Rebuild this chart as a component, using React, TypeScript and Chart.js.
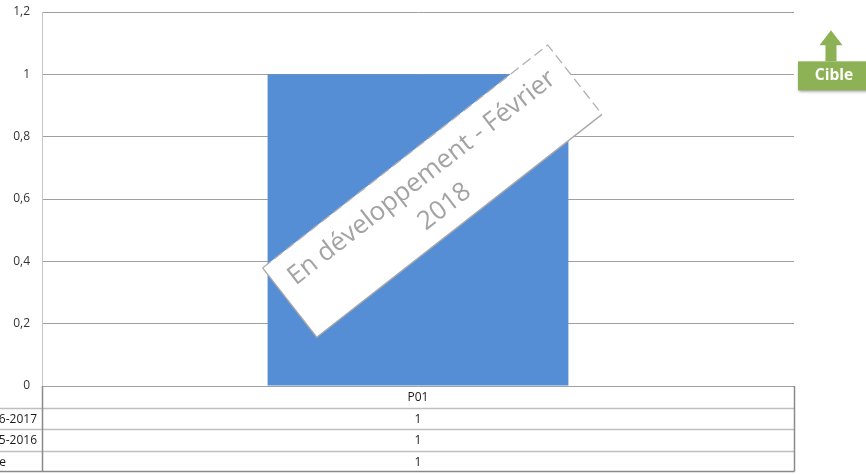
import React, { useEffect, useRef } from "react";
import { Chart, registerables } from "chart.js";

Chart.register(...registerables);

const categories = ["P01"];
const series2017 = [1];
const series2016 = [1];
const cibleValues = [1];
const rowLabels = ["2016-2017", "2015-2016", "Cible"];
const watermarkLines = ["En développement - Février", "2018"];
const cibleLabel = "Cible";

const FONT = "'Open Sans', 'Liberation Sans', sans-serif";
const fmt = (v: number) => String(Math.round(v * 10) / 10).replace(".", ",");

const tablePlugin = {
  id: "dataTable",
  afterDraw(chart: any) {
    const { ctx, chartArea, scales } = chart;
    const left = chartArea.left;
    const right = chartArea.right;
    const base = chartArea.bottom;
    const rowH = 21.6;
    const rows = [series2017, series2016, cibleValues];
    ctx.save();
    ctx.strokeStyle = "#bfbfbf";
    ctx.lineWidth = 1.5;
    for (let i = 1; i <= rows.length; i++) {
      const yy = Math.round(base + rowH * i) + 0.5;
      ctx.beginPath();
      ctx.moveTo(0, yy);
      ctx.lineTo(right, yy);
      ctx.stroke();
    }
    ctx.strokeStyle = "#8a8a8a";
    ctx.lineWidth = 1.5;
    const bottomY = Math.round(base + rowH * (rows.length + 1)) - 0.5;
    ctx.beginPath();
    ctx.moveTo(0, bottomY);
    ctx.lineTo(right + 0.5, bottomY);
    ctx.stroke();
    ctx.beginPath();
    ctx.moveTo(left + 0.5, base);
    ctx.lineTo(left + 0.5, bottomY);
    ctx.moveTo(right + 0.5, base);
    ctx.lineTo(right + 0.5, bottomY);
    ctx.stroke();
    ctx.fillStyle = "#1a1a1a";
    ctx.font = `12px ${FONT}`;
    ctx.textBaseline = "middle";
    categories.forEach((c, ci) => {
      const cx = scales.x.getPixelForValue(ci);
      ctx.textAlign = "center";
      ctx.fillText(c, cx, base + rowH / 2 + 1);
      rows.forEach((r, ri) => {
        ctx.fillText(fmt(r[ci]), cx, base + rowH * (ri + 1) + rowH / 2 + 1);
      });
    });
    const maxW = Math.max(...rowLabels.map((l) => ctx.measureText(l).width));
    const startX = left - 5 - maxW;
    ctx.textAlign = "left";
    rowLabels.forEach((l, ri) => {
      ctx.fillText(l, startX, base + rowH * (ri + 1) + rowH / 2 + 1);
    });
    ctx.restore();
  },
};

const overlayPlugin = {
  id: "overlays",
  afterDraw(chart: any) {
    const { ctx, chartArea, scales } = chart;
    const w = chartArea.right - chartArea.left;
    const h = chartArea.bottom - chartArea.top;
    const cx = chartArea.left + 0.519 * w;
    const cy = chartArea.top + 0.479 * h;
    const rw = 362;
    const rh = 88;
    ctx.save();
    ctx.translate(cx, cy);
    ctx.rotate((-38 * Math.PI) / 180);
    ctx.fillStyle = "#ffffff";
    ctx.fillRect(-rw / 2, -rh / 2, rw, rh);
    ctx.strokeStyle = "#b0b0b0";
    ctx.lineWidth = 1.3;
    ctx.setLineDash([10, 5]);
    ctx.beginPath();
    ctx.moveTo(-rw / 2, -rh / 2);
    ctx.lineTo(rw / 2, -rh / 2);
    ctx.lineTo(rw / 2, rh / 2);
    ctx.stroke();
    ctx.setLineDash([]);
    ctx.strokeStyle = "#a8a8a8";
    ctx.beginPath();
    ctx.moveTo(rw / 2, rh / 2);
    ctx.lineTo(-rw / 2, rh / 2);
    ctx.lineTo(-rw / 2, -rh / 2);
    ctx.stroke();
    let fs = 20;
    ctx.font = `${fs}px ${FONT}`;
    const m = ctx.measureText(watermarkLines[0]).width;
    fs = (fs * 332) / m;
    ctx.font = `${fs}px ${FONT}`;
    ctx.fillStyle = "#a3a3a3";
    ctx.textAlign = "center";
    ctx.textBaseline = "middle";
    ctx.fillText(watermarkLines[0], 0, -17);
    ctx.fillText(watermarkLines[1], 0, 20);
    ctx.restore();

    const py = scales.y.getPixelForValue(cibleValues[0]);
    const bx = chartArea.right + 4;
    const bw = chart.width - bx + 4;
    const by = py - 13;
    const bh = 29;
    const green = "#8db255";
    const ax = bx + 33;
    ctx.save();
    ctx.fillStyle = green;
    ctx.beginPath();
    ctx.moveTo(ax, py - 44);
    ctx.lineTo(ax + 11.5, py - 29);
    ctx.lineTo(ax + 5.5, py - 29);
    ctx.lineTo(ax + 5.5, by);
    ctx.lineTo(ax - 5.5, by);
    ctx.lineTo(ax - 5.5, py - 29);
    ctx.lineTo(ax - 11.5, py - 29);
    ctx.closePath();
    ctx.fill();
    ctx.shadowColor = "rgba(0,0,0,0.4)";
    ctx.shadowOffsetX = 1;
    ctx.shadowOffsetY = 2;
    ctx.shadowBlur = 3;
    ctx.fillRect(bx, by, bw, bh);
    ctx.shadowColor = "transparent";
    ctx.fillStyle = "#ffffff";
    ctx.font = `bold 15.5px ${FONT}`;
    ctx.textAlign = "center";
    ctx.textBaseline = "middle";
    ctx.fillText(cibleLabel, bx + 36, py + 1.5);
    ctx.restore();
  },
};

export default function App() {
  const ref = useRef<HTMLCanvasElement>(null);
  useEffect(() => {
    if (!ref.current) return;
    const chart = new Chart(ref.current, {
      type: "bar",
      data: {
        labels: categories,
        datasets: [
          {
            label: rowLabels[0],
            data: series2017,
            backgroundColor: "#558ed5",
            barPercentage: 0.4,
            categoryPercentage: 1,
          },
        ],
      },
      options: {
        responsive: false,
        animation: false,
        layout: { padding: { top: 12, right: 72, left: 0, bottom: 0 } },
        plugins: { legend: { display: false }, tooltip: { enabled: false } },
        scales: {
          x: {
            ticks: { display: false },
            grid: { display: false },
            border: { display: false },
            afterFit: (s: any) => {
              s.height = 88;
            },
          },
          y: {
            min: 0,
            max: 1.2,
            ticks: {
              stepSize: 0.2,
              padding: 0,
              color: "#333333",
              font: { family: FONT, size: 12 },
              callback: (v: any) => fmt(Number(v)),
            },
            grid: { color: "#a0a0a0", drawTicks: true, tickLength: 12, tickColor: "rgba(0,0,0,0)" },
            border: { color: "#c4c4c4" },
            afterFit: (s: any) => {
              s.width = 42;
            },
          },
        },
      },
      plugins: [tablePlugin, overlayPlugin],
    });
    return () => chart.destroy();
  }, []);
  return (
    <div style={{ position: "fixed", left: 0, top: 0, width: 866, height: 474, background: "#fff" }}>
      <canvas ref={ref} width={866} height={474} />
    </div>
  );
}
